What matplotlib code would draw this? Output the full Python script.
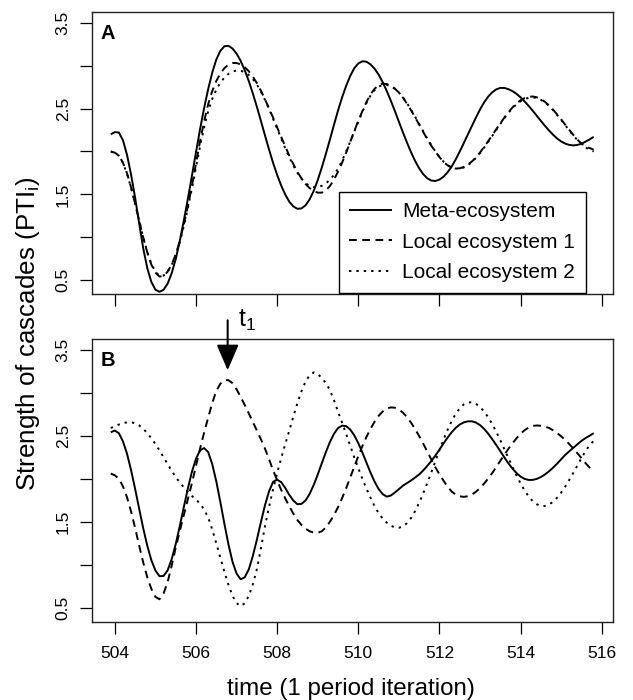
import matplotlib
matplotlib.use('Agg')
import matplotlib.pyplot as plt

plt.rcParams['font.family'] = ['Liberation Sans', 'DejaVu Sans']
plt.rcParams['mathtext.default'] = 'regular'

# ---------------- data ----------------
# sampling times: 503.9, 504.0, ..., 515.8 (step 0.1)
time = [round(503.9 + 0.1 * k, 1) for k in range(120)]

# Panel A
a_meta = [2.20, 2.225, 2.22, 2.13, 1.96, 1.73, 1.46, 1.16, 0.87, 0.64,
          0.48, 0.39, 0.366, 0.389, 0.46, 0.581, 0.746, 0.956, 1.196, 1.451,
          1.717, 1.991, 2.259, 2.505, 2.726, 2.918, 3.07, 3.171, 3.225, 3.23,
          3.198, 3.139, 3.055, 2.947, 2.82, 2.676, 2.52, 2.355, 2.187, 2.022,
          1.866, 1.726, 1.602, 1.497, 1.414, 1.359, 1.332, 1.337, 1.373, 1.442,
          1.54, 1.667, 1.813, 1.971, 2.138, 2.31, 2.477, 2.629, 2.764, 2.879,
          2.969, 3.025, 3.05, 3.045, 3.014, 2.964, 2.895, 2.807, 2.705, 2.592,
          2.471, 2.346, 2.222, 2.102, 1.99, 1.889, 1.803, 1.735, 1.687, 1.661,
          1.656, 1.672, 1.706, 1.757, 1.824, 1.907, 2.0, 2.098, 2.198, 2.298,
          2.396, 2.489, 2.572, 2.638, 2.689, 2.723, 2.74, 2.739, 2.725, 2.702,
          2.67, 2.629, 2.581, 2.529, 2.473, 2.414, 2.355, 2.298, 2.244, 2.194,
          2.15, 2.116, 2.091, 2.076, 2.07, 2.076, 2.09, 2.114, 2.14, 2.17]
a_local1 = [2.00, 1.985, 1.953, 1.868, 1.745, 1.58, 1.391, 1.191, 0.996, 0.823,
            0.682, 0.589, 0.543, 0.55, 0.60, 0.682, 0.80, 0.959, 1.15, 1.364,
            1.60, 1.861, 2.12, 2.351, 2.55, 2.703, 2.82, 2.908, 2.97, 3.01,
            3.03, 3.03, 3.013, 2.981, 2.934, 2.872, 2.796, 2.706, 2.606, 2.502,
            2.393, 2.281, 2.168, 2.057, 1.95, 1.851, 1.762, 1.685, 1.621, 1.573,
            1.54, 1.52, 1.52, 1.547, 1.597, 1.672, 1.764, 1.869, 1.985, 2.11,
            2.236, 2.357, 2.47, 2.575, 2.664, 2.729, 2.772, 2.789, 2.785, 2.766,
            2.732, 2.685, 2.626, 2.556, 2.479, 2.397, 2.312, 2.226, 2.142, 2.066,
            1.997, 1.933, 1.879, 1.838, 1.811, 1.801, 1.804, 1.819, 1.846, 1.884,
            1.931, 1.988, 2.052, 2.119, 2.189, 2.259, 2.328, 2.395, 2.457, 2.513,
            2.56, 2.596, 2.622, 2.637, 2.64, 2.63, 2.609, 2.577, 2.536, 2.486,
            2.431, 2.372, 2.311, 2.25, 2.192, 2.137, 2.091, 2.06, 2.04, 2.02]
a_local2 = [2.00, 1.98, 1.95, 1.864, 1.74, 1.576, 1.39, 1.193, 1.00, 0.829,
            0.69, 0.598, 0.55, 0.554, 0.60, 0.677, 0.79, 0.944, 1.13, 1.341,
            1.57, 1.817, 2.06, 2.28, 2.47, 2.612, 2.72, 2.801, 2.86, 2.903,
            2.93, 2.943, 2.94, 2.923, 2.89, 2.843, 2.78, 2.697, 2.60, 2.493,
            2.38, 2.265, 2.15, 2.037, 1.93, 1.834, 1.75, 1.682, 1.63, 1.599,
            1.585, 1.585, 1.60, 1.628, 1.67, 1.727, 1.80, 1.894, 2.00, 2.113,
            2.23, 2.348, 2.46, 2.563, 2.65, 2.713, 2.755, 2.774, 2.775, 2.76,
            2.73, 2.686, 2.63, 2.562, 2.485, 2.404, 2.32, 2.234, 2.15, 2.072,
            2.00, 1.935, 1.88, 1.841, 1.815, 1.801, 1.80, 1.814, 1.84, 1.877,
            1.925, 1.982, 2.045, 2.111, 2.18, 2.25, 2.32, 2.388, 2.45, 2.504,
            2.55, 2.585, 2.61, 2.626, 2.63, 2.621, 2.60, 2.57, 2.53, 2.481,
            2.425, 2.366, 2.305, 2.244, 2.185, 2.132, 2.085, 2.047, 2.02, 2.00]

# Panel B
b_meta = [2.54, 2.56, 2.528, 2.434, 2.29, 2.10, 1.882, 1.65, 1.423, 1.221,
          1.054, 0.934, 0.868, 0.871, 0.935, 1.065, 1.241, 1.45, 1.672, 1.888,
          2.082, 2.233, 2.33, 2.357, 2.31, 2.17, 1.97, 1.729, 1.476, 1.237,
          1.035, 0.899, 0.832, 0.855, 0.947, 1.102, 1.292, 1.497, 1.693, 1.854,
          1.965, 1.989, 1.96, 1.892, 1.812, 1.746, 1.704, 1.708, 1.748, 1.824,
          1.927, 2.049, 2.18, 2.309, 2.427, 2.522, 2.589, 2.617, 2.612, 2.572,
          2.505, 2.413, 2.305, 2.188, 2.072, 1.967, 1.881, 1.822, 1.792, 1.805,
          1.84, 1.879, 1.92, 1.95, 1.98, 2.015, 2.05, 2.097, 2.15, 2.207,
          2.27, 2.339, 2.41, 2.478, 2.54, 2.591, 2.63, 2.655, 2.667, 2.667,
          2.653, 2.623, 2.58, 2.524, 2.46, 2.391, 2.32, 2.247, 2.178, 2.117,
          2.065, 2.025, 1.998, 1.986, 1.987, 1.999, 2.02, 2.05, 2.087, 2.129,
          2.176, 2.227, 2.278, 2.32, 2.36, 2.401, 2.44, 2.473, 2.50, 2.53]
b_local1 = [2.06, 2.04, 2.00, 1.911, 1.785, 1.618, 1.427, 1.223, 1.026, 0.855,
            0.72, 0.628, 0.60, 0.668, 0.80, 0.989, 1.20, 1.392, 1.58, 1.764,
            1.95, 2.151, 2.35, 2.536, 2.71, 2.88, 3.02, 3.104, 3.145, 3.145,
            3.11, 3.04, 2.95, 2.858, 2.76, 2.661, 2.56, 2.458, 2.35, 2.226,
            2.10, 1.981, 1.87, 1.771, 1.68, 1.594, 1.52, 1.463, 1.42, 1.39,
            1.375, 1.373, 1.39, 1.435, 1.50, 1.578, 1.67, 1.775, 1.89, 2.014,
            2.14, 2.263, 2.38, 2.486, 2.58, 2.662, 2.73, 2.781, 2.815, 2.829,
            2.825, 2.804, 2.768, 2.716, 2.651, 2.577, 2.495, 2.407, 2.315, 2.222,
            2.133, 2.051, 1.977, 1.908, 1.852, 1.816, 1.796, 1.79, 1.797, 1.817,
            1.849, 1.892, 1.944, 2.003, 2.067, 2.137, 2.209, 2.28, 2.349, 2.413,
            2.471, 2.523, 2.565, 2.595, 2.614, 2.619, 2.615, 2.606, 2.59, 2.563,
            2.53, 2.493, 2.45, 2.402, 2.35, 2.296, 2.24, 2.181, 2.13, 2.08]
b_local2 = [2.59, 2.61, 2.63, 2.646, 2.655, 2.656, 2.645, 2.619, 2.58, 2.53,
            2.47, 2.403, 2.33, 2.251, 2.17, 2.093, 2.02, 1.957, 1.90, 1.848,
            1.80, 1.759, 1.71, 1.643, 1.55, 1.411, 1.25, 1.084, 0.92, 0.767,
            0.64, 0.555, 0.52, 0.553, 0.64, 0.771, 0.95, 1.193, 1.45, 1.674,
            1.88, 2.067, 2.24, 2.403, 2.56, 2.724, 2.88, 3.018, 3.13, 3.202,
            3.235, 3.218, 3.17, 3.112, 3.03, 2.913, 2.78, 2.651, 2.52, 2.384,
            2.25, 2.122, 2.00, 1.886, 1.78, 1.683, 1.60, 1.537, 1.49, 1.455,
            1.435, 1.431, 1.446, 1.485, 1.545, 1.625, 1.722, 1.831, 1.95, 2.076,
            2.205, 2.333, 2.456, 2.569, 2.67, 2.754, 2.82, 2.864, 2.887, 2.888,
            2.87, 2.834, 2.782, 2.715, 2.635, 2.545, 2.447, 2.343, 2.238, 2.135,
            2.036, 1.944, 1.862, 1.793, 1.739, 1.703, 1.684, 1.684, 1.70, 1.733,
            1.78, 1.84, 1.91, 1.988, 2.07, 2.156, 2.24, 2.323, 2.39, 2.44]

series_names = ['Meta-ecosystem', 'Local ecosystem 1', 'Local ecosystem 2']
x_ticks = [504, 506, 508, 510, 512, 514, 516]
y_ticks = [0.5, 1.0, 1.5, 2.0, 2.5, 3.0, 3.5]
y_ticklabels = ['0.5', '', '1.5', '', '2.5', '', '3.5']
panel_letters = ['A', 'B']
t1_time = 506.78

# ---------------- figure ----------------
fig = plt.figure(figsize=(6.33, 7.0), dpi=100)
axA = fig.add_axes([0.1449, 0.5800, 0.8231, 0.4024])
axB = fig.add_axes([0.1449, 0.1119, 0.8231, 0.4034])

LW = 1.4
styles = ['-', (0, (4, 2.8)), (0, (1.2, 2.6))]

for ax, data, letter in [(axA, (a_meta, a_local1, a_local2), panel_letters[0]),
                         (axB, (b_meta, b_local1, b_local2), panel_letters[1])]:
    for vals, ls, name in zip(data, styles, series_names):
        ax.plot(time, vals, color='black', lw=LW, linestyle=ls, label=name,
                solid_capstyle='butt', dash_capstyle='butt')
    ax.set_xlim(503.43, 516.27)
    ax.set_ylim(0.34, 3.62)
    ax.set_xticks(x_ticks)
    ax.set_yticks(y_ticks)
    ax.set_yticklabels(y_ticklabels, rotation=90, va='center')
    ax.tick_params(axis='both', direction='out', length=8.6, width=0.9,
                   labelsize=12.5, colors='black')
    ax.tick_params(axis='y', pad=6.5)
    ax.tick_params(axis='x', pad=9)
    for sp in ax.spines.values():
        sp.set_linewidth(1.0)
        sp.set_color('#222222')
    ax.text(0.0173, 0.904, letter, transform=ax.transAxes, fontsize=14.4,
            fontweight='bold', ha='left', va='baseline')

axA.tick_params(axis='x', labelbottom=False)

leg = axA.legend(loc='lower right', bbox_to_anchor=(0.948, 0.005),
                 borderaxespad=0, fontsize=15, frameon=True, fancybox=False,
                 edgecolor='black', framealpha=1, handlelength=2.07,
                 handletextpad=0.48, labelspacing=0.55, borderpad=0.5)
leg.get_frame().set_linewidth(1.0)

# arrow marking t1
axB.annotate('', xy=(t1_time, 3.26), xytext=(t1_time, 3.84),
             xycoords='data', textcoords='data', annotation_clip=False,
             arrowprops=dict(arrowstyle='-|>,head_length=0.79,head_width=0.34',
                             color='black', lw=1.5, shrinkA=0, shrinkB=0,
                             mutation_scale=20))
fig.text(238 / 633, 1 - 327 / 700, r'$t_1$', fontsize=18, ha='left', va='baseline')

fig.text(0.045, 1 - 333.5 / 700, r'Strength of cascades (PTI$_i$)', rotation=90,
         fontsize=18.7, ha='center', va='center')
fig.text(351 / 633, 1 - 695 / 700, 'time (1 period iteration)', fontsize=17.4,
         ha='center', va='baseline')

fig.savefig('out.png', dpi=100)
